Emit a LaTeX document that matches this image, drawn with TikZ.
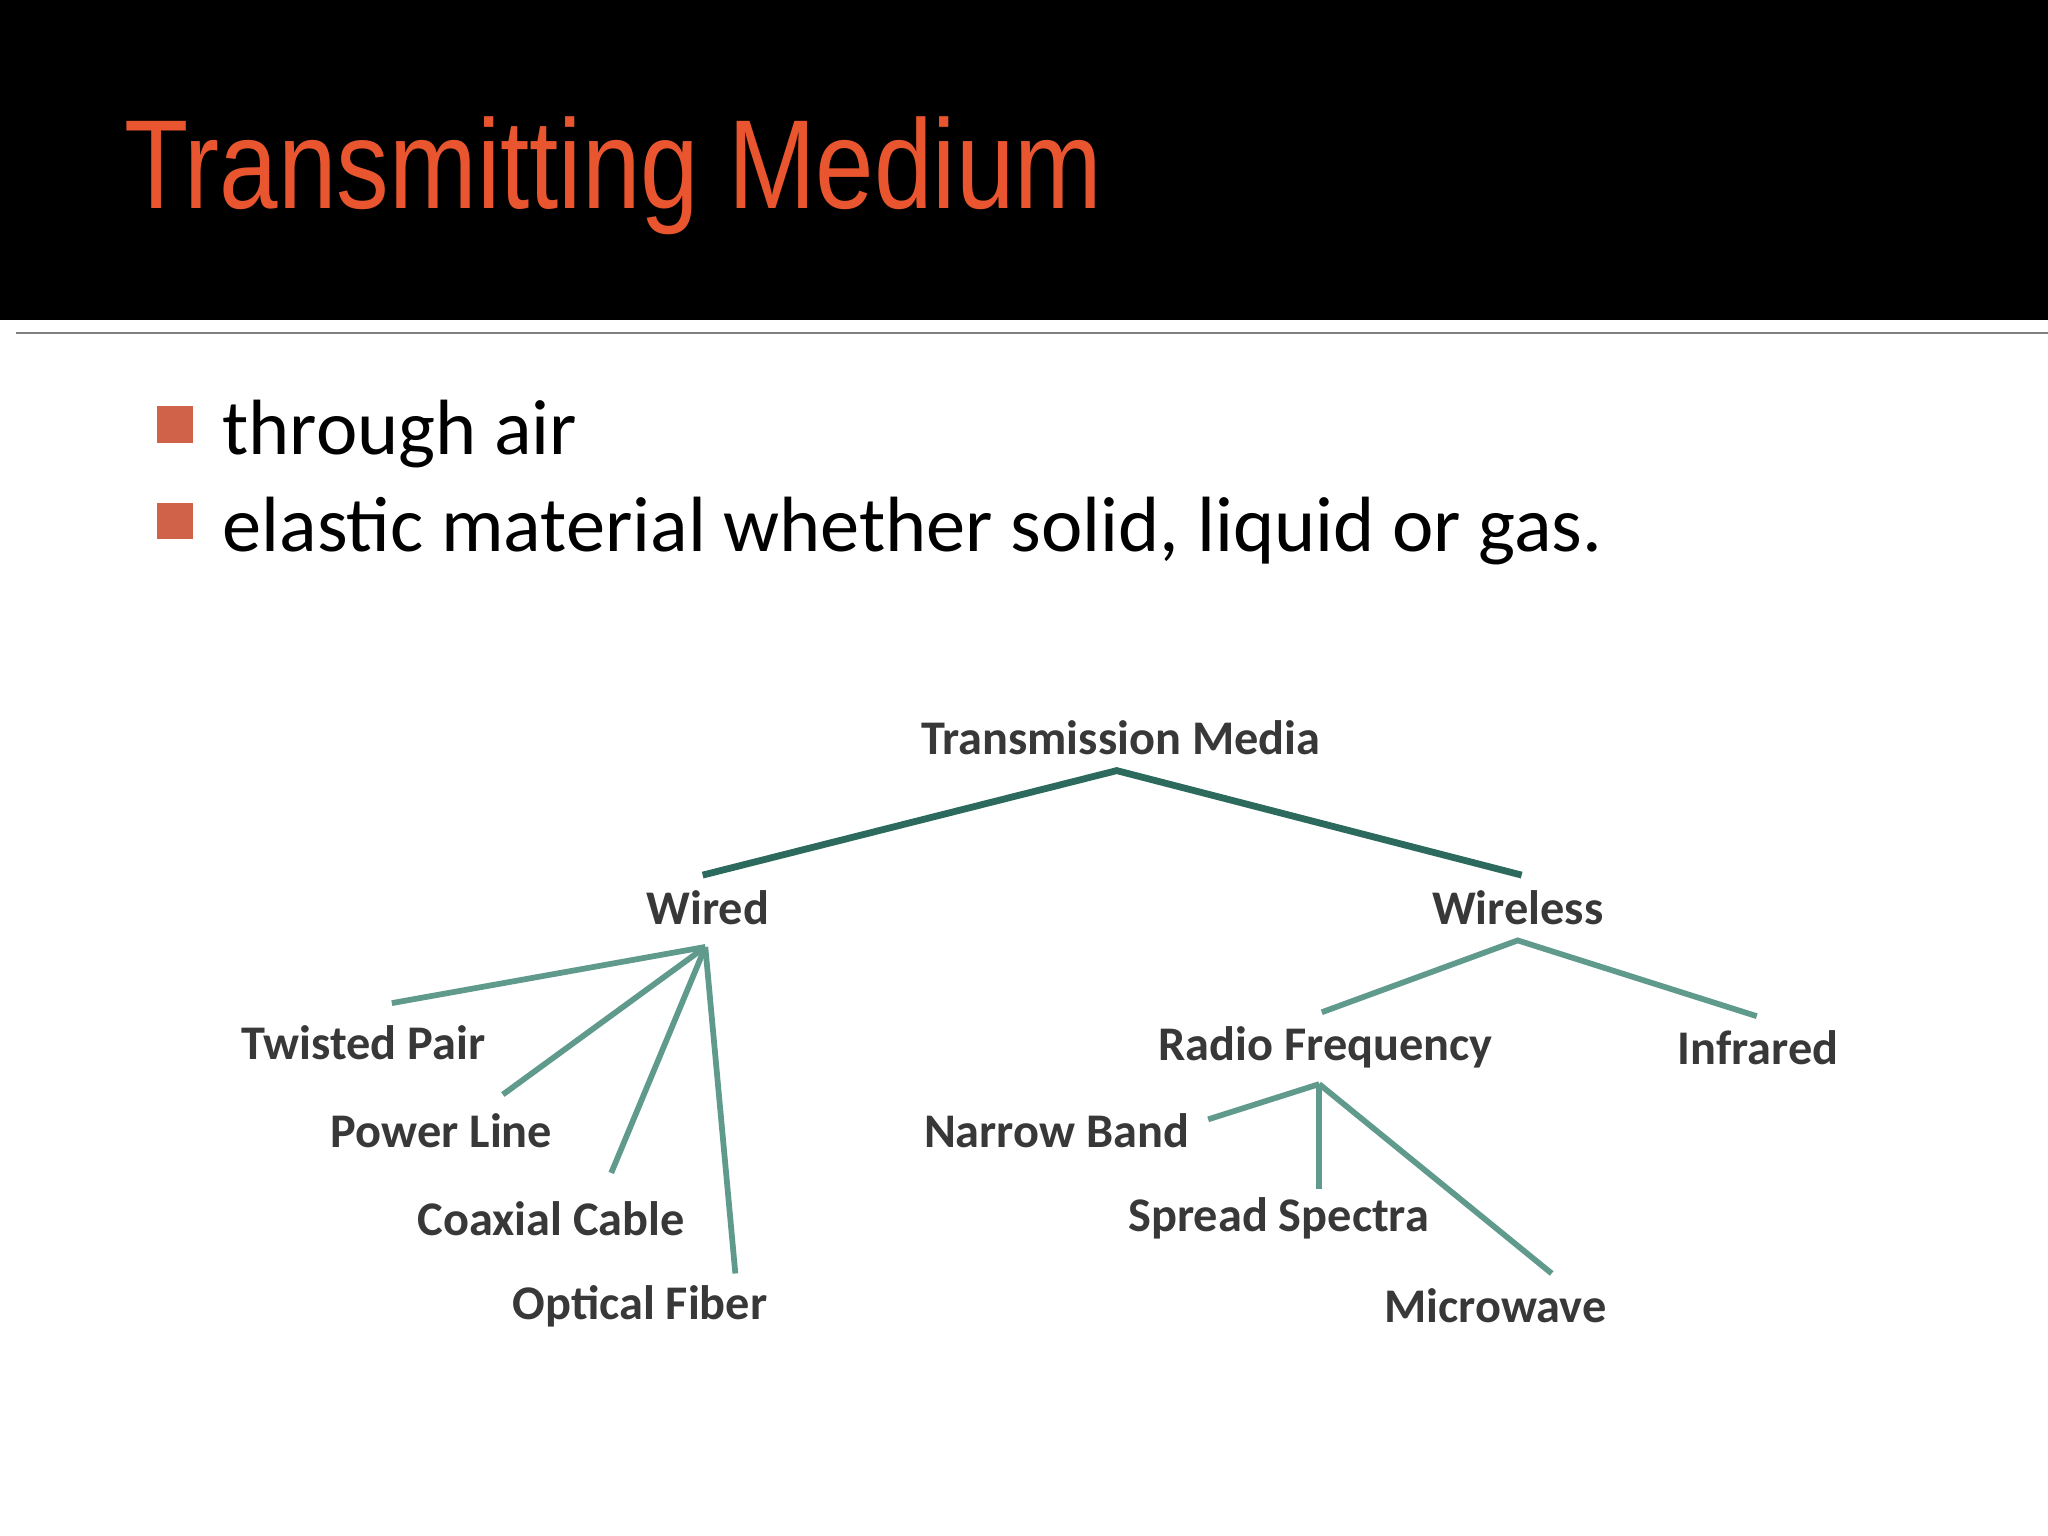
\documentclass[tikz,border=0pt]{standalone}
\usepackage{fontspec}
\setmainfont{Carlito}
\newfontfamily\titlefont{Liberation Sans}
\definecolor{ttl}{HTML}{E8552E}
\definecolor{bulc}{HTML}{D0624A}
\definecolor{topc}{HTML}{2B6A5C}
\definecolor{subc}{HTML}{5F9A8C}
\begin{document}
\begin{tikzpicture}[x=0.5pt,y=-0.5pt,
  lbl/.style={font=\bfseries\fontsize{18.5}{22}\selectfont, text=black!78, inner sep=0pt},
  top/.style={draw=topc, line width=2.6pt},
  sub/.style={draw=subc, line width=2.2pt}]
\useasboundingbox (0,0) rectangle (1568,1176);
\fill[white] (0,0) rectangle (1568,1176);
\fill[black] (0,0) rectangle (1568,245);
\draw[gray, line width=0.6pt] (12,255) -- (1568,255);
\node[anchor=base west, inner sep=0pt, text=ttl, xscale=0.83,
  font=\titlefont\fontsize{48.5}{55}\selectfont] (title) at (95,160) {Transmitting Medium};
\tikzset{bul/.style={fill=bulc, minimum size=14pt, inner sep=0pt}}
\node[bul] (b1) at (134,325) {};
\node[bul] (b2) at (134,399) {};
\node[anchor=base west, inner sep=0pt, font=\fontsize{30}{34}\selectfont] (t1) at (170,348) {through air};
\node[anchor=base west, inner sep=0pt, font=\fontsize{30}{34}\selectfont] (t2) at (170,422) {elastic material whether solid, liquid or gas.};
% tree labels
\node[lbl] (tm) at (858,565) {Transmission Media};
\node[lbl] (wd) at (542,695) {Wired};
\node[lbl] (wl) at (1162,695) {Wireless};
\node[lbl] (tp) at (278,798) {Twisted Pair};
\node[lbl] (pl) at (338,866) {Power Line};
\node[lbl] (cc) at (422,933) {Coaxial Cable};
\node[lbl] (of) at (490,1000) {Optical Fiber};
\node[lbl] (rf) at (1015,802) {Radio Frequency};
\node[lbl] (ir) at (1346,802) {Infrared};
\node[lbl] (nb) at (809,866) {Narrow Band};
\node[lbl] (ss) at (979,933) {Spread Spectra};
\node[lbl] (mw) at (1145,1000) {Microwave};
% connector points
\coordinate (a0) at (855,590);
\coordinate (a1) at (538,670); \coordinate (a2) at (1165,670);
\coordinate (w0) at (540,725);
\coordinate (w1) at (300,768); \coordinate (w2) at (385,838);
\coordinate (w3) at (468,898); \coordinate (w4) at (563,975);
\coordinate (l0) at (1162,720);
\coordinate (l1) at (1012,775); \coordinate (l2) at (1345,778);
\coordinate (r0) at (1010,830);
\coordinate (r1) at (925,857); \coordinate (r2) at (1010,910); \coordinate (r3) at (1188,975);
\draw[top] (a1) -- (a0) -- (a2);
\draw[sub] (w0) -- (w1); \draw[sub] (w0) -- (w2); \draw[sub] (w0) -- (w3); \draw[sub] (w0) -- (w4);
\draw[sub] (l1) -- (l0) -- (l2);
\draw[sub] (r0) -- (r1); \draw[sub] (r0) -- (r2); \draw[sub] (r0) -- (r3);
\end{tikzpicture}
\end{document}
